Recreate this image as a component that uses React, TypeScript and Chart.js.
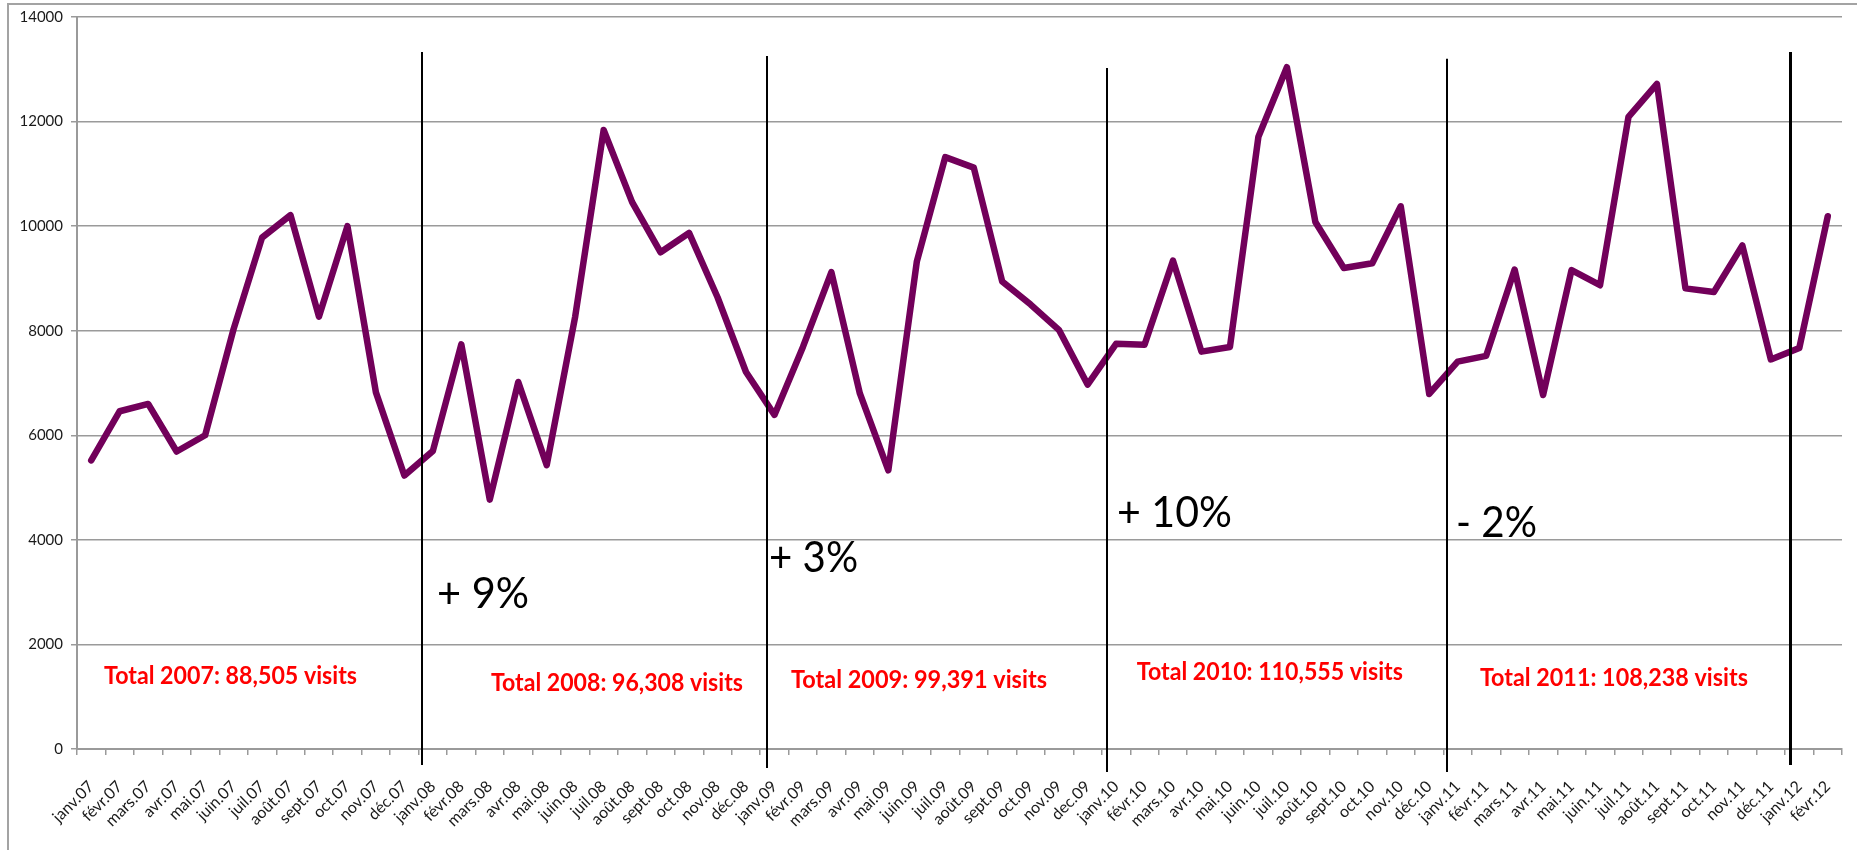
import React, { useEffect, useRef } from "react";
import { Chart, registerables } from "chart.js";

Chart.register(...registerables);

// ---- Data ----
const monthLabels = [
  "janv.07", "févr.07", "mars.07", "avr.07", "mai.07", "juin.07", "juil.07", "août.07", "sept.07", "oct.07", "nov.07", "déc.07",
  "janv.08", "févr.08", "mars.08", "avr.08", "mai.08", "juin.08", "juil.08", "août.08", "sept.08", "oct.08", "nov.08", "déc.08",
  "janv.09", "févr.09", "mars.09", "avr.09", "mai.09", "juin.09", "juil.09", "août.09", "sept.09", "oct.09", "nov.09", "dec.09",
  "janv.10", "févr.10", "mars.10", "avr.10", "mai.10", "juin.10", "juil.10", "août.10", "sept.10", "oct.10", "nov.10", "déc.10",
  "janv.11", "févr.11", "mars.11", "avr.11", "mai.11", "juin.11", "juil.11", "août.11", "sept.11", "oct.11", "nov.11", "déc.11",
  "janv.12", "févr.12",
];

const visits2007 = [5520, 6460, 6600, 5690, 6000, 8030, 9780, 10210, 8270, 10000, 6820, 5230];
const visits2008 = [5700, 7740, 4770, 7020, 5430, 8270, 11840, 10460, 9500, 9870, 8640, 7210];
const visits2009 = [6390, 7690, 9120, 6800, 5330, 9320, 11320, 11120, 8940, 8500, 8010, 6970];
const visits2010 = [7750, 7730, 9340, 7600, 7690, 11710, 13040, 10080, 9200, 9290, 10380, 6790];
const visits2011 = [7410, 7520, 9170, 6770, 9160, 8870, 12090, 12720, 8810, 8740, 9630, 7450];
const visits2012 = [7670, 10190];

const yTicks = [0, 2000, 4000, 6000, 8000, 10000, 12000, 14000];

const yearTotals = [
  "Total 2007: 88,505 visits",
  "Total 2008: 96,308 visits",
  "Total 2009: 99,391 visits",
  "Total 2010: 110,555 visits",
  "Total 2011: 108,238 visits",
];
const growthLabels = ["+ 9%", "+ 3%", "+ 10%", "- 2%"];

// ---- Annotation placement (in axis units: category index / visits) ----
const totalPlacement = [
  { at: 0.45, v: 1241, w: 253 },
  { at: 14.04, v: 1108, w: 252 },
  { at: 24.58, v: 1165, w: 256 },
  { at: 36.73, v: 1318, w: 266 },
  { at: 48.78, v: 1203, w: 268 },
];
const growthPlacement = [
  { at: 12.15, v: 2693, w: 92 },
  { at: 23.81, v: 3381, w: 89 },
  { at: 36.03, v: 4240, w: 115 },
  { at: 47.94, v: 4049, w: 81 },
];
const separators = [
  { at: 11.63, top: 13330, below: 16, lw: 2 },
  { at: 23.73, top: 13255, below: 19, lw: 2 },
  { at: 35.69, top: 13025, below: 23, lw: 2 },
  { at: 47.63, top: 13200, below: 23, lw: 2 },
  { at: 59.68, top: 13330, below: 16, lw: 3 },
];

function fitText(ctx: CanvasRenderingContext2D, text: string, x: number, y: number, w: number) {
  const natural = ctx.measureText(text).width;
  const k = natural > 0 ? w / natural : 1;
  ctx.save();
  ctx.translate(x, y);
  ctx.scale(k, 1);
  ctx.fillText(text, 0, 0);
  ctx.restore();
}

const overlayPlugin = {
  id: "overlay",
  beforeDraw(chart: any) {
    const { ctx, width, height } = chart;
    ctx.save();
    ctx.fillStyle = "#ffffff";
    ctx.fillRect(0, 0, width, height);
    ctx.strokeStyle = "#a3a3a3";
    ctx.lineWidth = 2;
    ctx.beginPath();
    ctx.moveTo(8, height);
    ctx.lineTo(8, 4);
    ctx.lineTo(width, 4);
    ctx.stroke();
    ctx.restore();
  },
  afterDraw(chart: any) {
    const { ctx } = chart;
    const xs = chart.scales.x;
    const ys = chart.scales.y;
    const axisY = ys.getPixelForValue(0);
    ctx.save();
    // separators
    ctx.strokeStyle = "#000000";
    separators.forEach((s) => {
      const px = Math.round(xs.getPixelForValue(s.at)) + (s.lw % 2 ? 0.5 : 0);
      ctx.lineWidth = s.lw;
      ctx.beginPath();
      ctx.moveTo(px, ys.getPixelForValue(s.top));
      ctx.lineTo(px, axisY + s.below);
      ctx.stroke();
    });
    // year totals
    ctx.fillStyle = "#ff0000";
    ctx.textBaseline = "alphabetic";
    ctx.textAlign = "left";
    ctx.font = 'bold 24px Lato, "Noto Sans", sans-serif';
    yearTotals.forEach((t, i) => {
      const p = totalPlacement[i];
      fitText(ctx, t, xs.getPixelForValue(p.at), ys.getPixelForValue(p.v), p.w);
    });
    // growth labels
    ctx.fillStyle = "#000000";
    ctx.font = '42px Lato, "Noto Sans", sans-serif';
    growthLabels.forEach((t, i) => {
      const p = growthPlacement[i];
      fitText(ctx, t, xs.getPixelForValue(p.at), ys.getPixelForValue(p.v), p.w);
    });
    ctx.restore();
  },
};

export default function App() {
  const ref = useRef<HTMLCanvasElement>(null);

  useEffect(() => {
    if (!ref.current) return;
    const series = [...visits2007, ...visits2008, ...visits2009, ...visits2010, ...visits2011, ...visits2012];
    const chart = new Chart(ref.current, {
      type: "line",
      data: {
        labels: monthLabels,
        datasets: [
          {
            data: series,
            borderColor: "#72005a",
            backgroundColor: "#72005a",
            borderWidth: 6.5,
            pointRadius: 0,
            pointHoverRadius: 0,
            tension: 0,
            fill: false,
            borderJoinStyle: "round",
            borderCapStyle: "round",
          },
        ],
      },
      options: {
        responsive: false,
        animation: false,
        events: [],
        layout: { padding: { left: 8, top: 16, right: 15, bottom: 0 } },
        plugins: {
          legend: { display: false },
          tooltip: { enabled: false },
          title: { display: false },
        },
        scales: {
          x: {
            type: "category",
            offset: true,
            afterFit: (scale: any) => {
              scale.height = 101;
              scale.paddingLeft = 0;
              scale.paddingRight = 0;
            },
            grid: {
              display: true,
              offset: true,
              drawOnChartArea: false,
              drawTicks: true,
              tickLength: 6,
              color: "#9a9a9a",
              lineWidth: 1.5,
            },
            border: { display: true, color: "#9a9a9a", width: 2 },
            ticks: {
              autoSkip: false,
              maxRotation: 45,
              minRotation: 45,
              padding: 22,
              color: "#1a1a1a",
              font: { family: "Lato", size: 16 },
            },
          },
          y: {
            min: 0,
            max: 14000,
            afterFit: (scale: any) => {
              scale.width = 69;
            },
            afterBuildTicks: (scale: any) => {
              scale.ticks = yTicks.map((v) => ({ value: v }));
            },
            grid: {
              color: "#9a9a9a",
              lineWidth: 1.5,
              drawTicks: true,
              tickLength: 6,
            },
            border: { display: true, color: "#9a9a9a", width: 2 },
            ticks: {
              padding: 8,
              color: "#1a1a1a",
              font: { family: "Lato", size: 15 },
              callback: (v: any) => String(v),
            },
          },
        },
      },
      plugins: [overlayPlugin],
    });
    return () => chart.destroy();
  }, []);

  return (
    <div style={{ position: "absolute", left: 0, top: 0, width: 1857, height: 850, background: "#fff" }}>
      <canvas ref={ref} width={1857} height={850} style={{ display: "block", width: 1857, height: 850 }} />
    </div>
  );
}
